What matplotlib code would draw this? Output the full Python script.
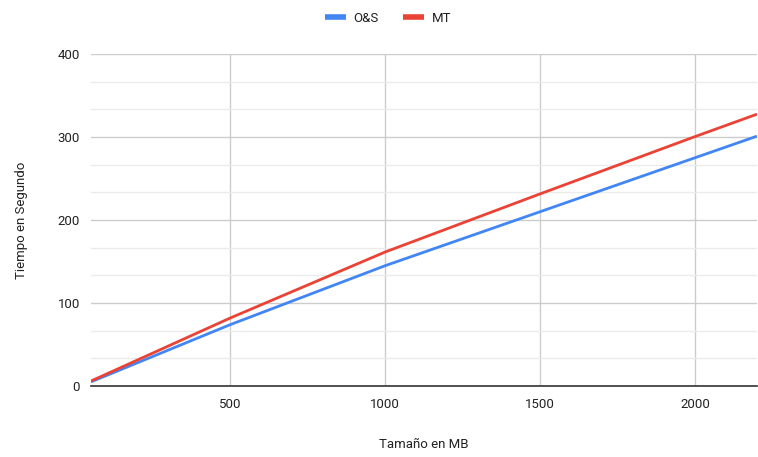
import matplotlib.pyplot as plt
from matplotlib.ticker import MultipleLocator

# data
tamano_mb = [50, 500, 1000, 1500, 2000, 2200]
os_seg = [5, 74, 145, 210, 275, 301]
mt_seg = [6, 82, 161.5, 231.5, 300.5, 327.5]

plt.rcParams['font.family'] = ['Roboto', 'DejaVu Sans']

fig = plt.figure(figsize=(7.58, 4.57), dpi=100)
ax = fig.add_axes([91 / 758, 1 - 386 / 457, 666 / 758, 332 / 457])

ax.plot(tamano_mb, os_seg, color='#4285F4', lw=2, label='O&S', solid_capstyle='butt')
ax.plot(tamano_mb, mt_seg, color='#EA4335', lw=2, label='MT', solid_capstyle='butt')

ax.set_xlim(50, 2200)
ax.set_ylim(0, 400)
ax.xaxis.set_major_locator(MultipleLocator(500))
ax.yaxis.set_major_locator(MultipleLocator(100))
ax.yaxis.set_minor_locator(MultipleLocator(100 / 3))

ax.grid(True, which='major', color='#cccccc', lw=1)
ax.grid(True, which='minor', axis='y', color='#ebebeb', lw=1)
ax.set_axisbelow(True)

for s in ['top', 'right', 'left']:
    ax.spines[s].set_visible(False)
ax.spines['bottom'].set_color('#333333')
ax.spines['bottom'].set_linewidth(1.2)

ax.tick_params(which='both', length=0, labelsize=9.5, colors='#222222')
ax.tick_params(axis='y', pad=8)
ax.tick_params(axis='x', pad=9)

fig.text(424 / 758, 1 - 445 / 457, 'Tamaño en MB', ha='center', va='center',
         fontsize=9.5, color='#222222')
fig.text(22 / 758, 1 - 220 / 457, 'Tiempo en Segundo', ha='center', va='center',
         rotation=90, fontsize=9.5, color='#222222')

fig.legend(loc='center', bbox_to_anchor=(388 / 758, 1 - 18 / 457), ncol=2,
           frameon=False, fontsize=9.5, handlelength=1.6, handletextpad=0.6,
           columnspacing=1.8, labelcolor='#222222')
for h in fig.legends[0].get_lines():
    h.set_linewidth(4)

fig.savefig('out.png', dpi=100)
